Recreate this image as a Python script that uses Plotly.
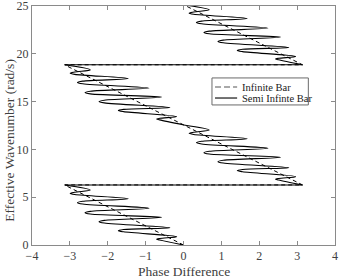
import plotly.graph_objects as go

# Infinite bar (dashed) : phase difference vs effective wavenumber
inf_phase = [0.0, -3.1416, 3.1416, -3.1416, 3.1416, 0.07]
inf_k = [0.0, 6.2832, 6.2832, 18.85, 18.85, 25.0]

# Semi infinite bar (solid), read segment by segment (turning points of the loops)
seg1_phase = [0.0, -0.63, -0.71, -0.63, -0.18, -1.58, -1.72, -1.58, -0.36, -2.09, -2.23, -2.09, -0.58,
              -2.46, -2.60, -2.46, -0.91, -2.66, -2.80, -2.66, -1.46, -2.87, -2.99, -2.87, -2.46, -3.13]
seg1_k = [0.0, 0.52, 0.60, 0.68, 0.87, 1.38, 1.50, 1.62, 1.81, 2.30, 2.44, 2.58, 2.90,
          3.24, 3.38, 3.52, 3.84, 4.29, 4.43, 4.57, 4.84, 5.28, 5.40, 5.52, 5.75, 6.28]

seg2_phase = [3.14, 2.51, 2.43, 2.51, 2.96, 1.56, 1.42, 1.56, 2.78, 1.05, 0.91, 1.05, 2.56,
              0.68, 0.54, 0.68, 2.23, 0.48, 0.34, 0.48, 1.68, 0.27, 0.15, 0.27, 0.68, 0.01]
seg2_k = [6.28, 6.80, 6.88, 6.96, 7.15, 7.66, 7.78, 7.90, 8.09, 8.58, 8.72, 8.86, 9.18,
          9.52, 9.66, 9.80, 10.12, 10.57, 10.71, 10.85, 11.12, 11.56, 11.68, 11.80, 12.03, 12.56]

seg3_phase = [0.01, -0.63, -0.71, -0.63, -0.18, -1.58, -1.72, -1.58, -0.36, -2.09, -2.23, -2.09, -0.58,
              -2.46, -2.60, -2.46, -0.91, -2.66, -2.80, -2.66, -1.46, -2.87, -2.99, -2.87, -2.46, -3.13]
seg3_k = [12.56, 13.09, 13.17, 13.25, 13.44, 13.95, 14.07, 14.19, 14.38, 14.87, 15.01, 15.15, 15.47,
          15.81, 15.95, 16.09, 16.41, 16.86, 17.00, 17.14, 17.41, 17.85, 17.97, 18.09, 18.32, 18.85]

seg4_phase = [3.14, 2.51, 2.43, 2.51, 2.96, 1.56, 1.42, 1.56, 2.78, 1.05, 0.91, 1.05, 2.56,
              0.68, 0.54, 0.68, 2.23, 0.48, 0.34, 0.48, 1.68, 0.27, 0.15, 0.27, 0.68, 0.01]
seg4_k = [18.85, 19.37, 19.45, 19.53, 19.72, 20.23, 20.35, 20.47, 20.66, 21.15, 21.29, 21.43, 21.75,
          22.09, 22.23, 22.37, 22.69, 23.14, 23.28, 23.42, 23.69, 24.13, 24.25, 24.37, 24.60, 25.13]

jump_phase = [-3.13, 3.14]
jump1_k = [6.28, 6.28]
jump2_k = [18.85, 18.85]

x_ticks = [-4, -3, -2, -1, 0, 1, 2, 3, 4]
y_ticks = [0, 5, 10, 15, 20, 25]

legend_labels = ["Infinite Bar", "Semi Infinte Bar"]

FONT = "Liberation Serif"
AX = "#8a8a8a"
TXT = "#404040"
fig = go.Figure()

fig.add_trace(go.Scatter(x=inf_phase, y=inf_k, mode="lines", name=legend_labels[0], showlegend=False,
                         line=dict(color="black", width=1, dash="4px,3px")))

segs = [(seg1_phase, seg1_k, "spline"), (jump_phase, jump1_k, "linear"),
        (seg2_phase, seg2_k, "spline"), (seg3_phase, seg3_k, "spline"),
        (jump_phase, jump2_k, "linear"), (seg4_phase, seg4_k, "spline")]
for px, py, shape in segs:
    fig.add_trace(go.Scatter(x=px, y=py, mode="lines", name=legend_labels[1], showlegend=False,
                             line=dict(color="black", width=1.1, shape=shape, smoothing=1.0)))

axis_common = dict(showline=True, linecolor=AX, linewidth=1, mirror="ticks",
                   ticks="inside", ticklen=4, tickcolor=AX, showgrid=False,
                   zeroline=False, ticklabeloverflow="allow",
                   tickfont=dict(family=FONT, size=12, color=TXT))

# manual legend box (MATLAB style)
shapes = [
    dict(type="rect", xref="paper", yref="paper", x0=0.594, x1=0.912, y0=0.586, y1=0.699,
         line=dict(color="#6a6a6a", width=1), fillcolor="white", layer="above"),
    dict(type="line", xref="paper", yref="paper", x0=0.604, x1=0.677, y0=0.661, y1=0.661,
         line=dict(color="#555555", width=1.2, dash="6px,3px"), layer="above"),
    dict(type="line", xref="paper", yref="paper", x0=0.604, x1=0.677, y0=0.615, y1=0.615,
         line=dict(color="black", width=1.1), layer="above"),
]
annotations = [
    dict(text=legend_labels[0], xref="paper", yref="paper", x=0.686, y=0.661, xanchor="left",
         yanchor="middle", showarrow=False, font=dict(family=FONT, size=10.5, color="#202020")),
    dict(text=legend_labels[1], xref="paper", yref="paper", x=0.686, y=0.615, xanchor="left",
         yanchor="middle", showarrow=False, font=dict(family=FONT, size=10.5, color="#202020")),
    dict(text="Effective Wavenumber (rad/s)", xref="paper", yref="paper", x=-0.073, y=0.44,
         xanchor="center", yanchor="middle", textangle=-90, showarrow=False,
         font=dict(family=FONT, size=13.5, color=TXT)),
    dict(text="Phase Difference", xref="paper", yref="paper", x=0.5, y=-0.109,
         xanchor="center", yanchor="middle", showarrow=False,
         font=dict(family=FONT, size=13.5, color=TXT)),
]

fig.update_layout(
    width=341, height=280,
    margin=dict(l=32, r=6, t=6, b=35),
    paper_bgcolor="white", plot_bgcolor="white",
    xaxis=dict(range=[-4, 4], tickvals=x_ticks, automargin=False, **axis_common),
    yaxis=dict(range=[0, 25], tickvals=y_ticks, automargin=False, **axis_common),
    shapes=shapes, annotations=annotations,
    showlegend=False,
)

fig.write_html("out.html")
